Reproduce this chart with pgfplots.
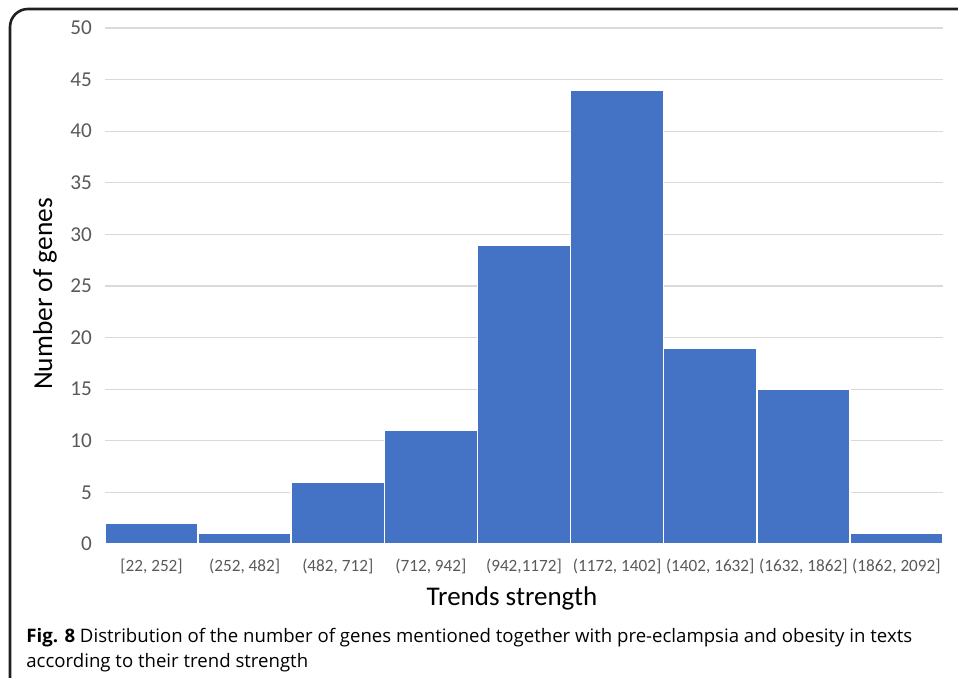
\documentclass[border=0pt]{standalone}
\usepackage{pgfplots}
\pgfplotsset{compat=1.18}
\usepackage{fontspec}
\setmainfont{Carlito}
\newfontfamily\capfont{Open Sans}
\definecolor{barblue}{HTML}{4472C4}
\definecolor{gridgray}{HTML}{D9D9D9}
\definecolor{ticktext}{HTML}{595959}
\begin{document}
\begin{tikzpicture}[x=0.5pt,y=0.5pt]
\useasboundingbox (0,0) rectangle (958,678);
\draw[line width=1.3pt, color=black!88, rounded corners=9pt] (10,-30) -- (10,669) -- (990,669);
\begin{axis}[
  at={(52.5pt,67pt)}, anchor=south west,
  scale only axis, width=419pt, height=258pt,
  xmin=0, xmax=9, ymin=0, ymax=50,
  axis line style={draw=none},
  ymajorgrids, grid style={gridgray, line width=0.6pt},
  ytick={0,5,...,50},
  xtick={0.5,1.5,...,8.5},
  xticklabels={{[22, 252]},{(252, 482]},{(482, 712]},{(712, 942]},{(942,1172]},{(1172, 1402]},{(1402, 1632]},{(1632, 1862]},{(1862, 2092]}},
  major tick length=0pt,
  /pgf/number format/assume math mode=true,
  yticklabel style={font=\fontsize{10.6}{12}\selectfont, text=ticktext, anchor=east, xshift=-3pt},
  xticklabel style={font=\fontsize{8.6}{10}\selectfont, text=ticktext, anchor=north, yshift=-4pt},
  clip=false,
]
\addplot[ybar, bar width=1, fill=barblue, draw=white, line width=0.8pt] coordinates {
  (0.5,2) (1.5,1) (2.5,6) (3.5,11) (4.5,29) (5.5,44) (6.5,19) (7.5,15) (8.5,1)
};
\end{axis}
\node[rotate=90, font=\fontsize{13.7}{15}\selectfont] at (45,384) {Number of genes};
\node[font=\fontsize{13.5}{15}\selectfont] at (512,80) {Trends strength};
\node[anchor=base west, inner sep=0pt, font=\capfont\fontsize{9.3}{10}\selectfont] at (26,35) {\textbf{Fig. 8} Distribution of the number of genes mentioned together with pre-eclampsia and obesity in texts};
\node[anchor=base west, inner sep=0pt, font=\capfont\fontsize{9.3}{10}\selectfont] at (26,10) {according to their trend strength};
\end{tikzpicture}
\end{document}
